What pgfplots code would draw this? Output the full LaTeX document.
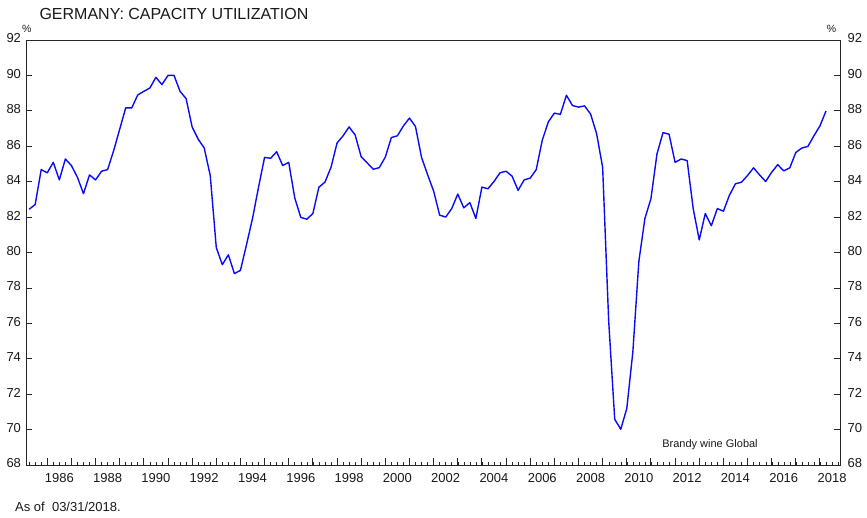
\documentclass[border=0pt]{standalone}
\usepackage{fontspec}
\setmainfont{Liberation Sans}
\usepackage{pgfplots}
\pgfplotsset{compat=1.18}
\usepackage{pgfplotstable}

\pgfplotstableread{
x y
1985.25 82.44
1985.50 82.71
1985.75 84.68
1986.00 84.50
1986.25 85.09
1986.50 84.10
1986.75 85.28
1987.00 84.91
1987.25 84.25
1987.50 83.32
1987.75 84.38
1988.00 84.10
1988.25 84.59
1988.50 84.68
1988.75 85.75
1989.00 86.96
1989.25 88.17
1989.50 88.17
1989.75 88.90
1990.00 89.10
1990.25 89.29
1990.50 89.89
1990.75 89.48
1991.00 90.00
1991.25 90.00
1991.50 89.10
1991.75 88.69
1992.00 87.09
1992.25 86.40
1992.50 85.90
1992.75 84.35
1993.00 80.28
1993.25 79.31
1993.50 79.87
1993.75 78.81
1994.00 78.99
1994.25 80.43
1994.50 81.92
1994.75 83.69
1995.00 85.37
1995.25 85.32
1995.50 85.69
1995.75 84.91
1996.00 85.09
1996.25 83.08
1996.50 81.98
1996.75 81.88
1997.00 82.20
1997.25 83.69
1997.50 83.97
1997.75 84.81
1998.00 86.18
1998.25 86.59
1998.50 87.09
1998.75 86.64
1999.00 85.41
1999.25 85.06
1999.50 84.70
1999.75 84.79
2000.00 85.39
2000.25 86.49
2000.50 86.59
2000.75 87.15
2001.00 87.59
2001.25 87.11
2001.50 85.37
2001.75 84.40
2002.00 83.47
2002.25 82.11
2002.50 82.00
2002.75 82.48
2003.00 83.30
2003.25 82.52
2003.50 82.82
2003.75 81.92
2004.00 83.69
2004.25 83.60
2004.50 84.01
2004.75 84.50
2005.00 84.59
2005.25 84.31
2005.50 83.51
2005.75 84.10
2006.00 84.20
2006.25 84.68
2006.50 86.34
2006.75 87.37
2007.00 87.87
2007.25 87.80
2007.50 88.88
2007.75 88.30
2008.00 88.21
2008.25 88.28
2008.50 87.82
2008.75 86.71
2009.00 84.81
2009.25 76.14
2009.50 70.58
2009.75 70.02
2010.00 71.19
2010.25 74.37
2010.50 79.50
2010.75 81.92
2011.00 83.04
2011.25 85.56
2011.50 86.77
2011.75 86.68
2012.00 85.09
2012.25 85.28
2012.50 85.19
2012.75 82.48
2013.00 80.71
2013.25 82.20
2013.50 81.51
2013.75 82.48
2014.00 82.33
2014.25 83.23
2014.50 83.88
2014.75 83.97
2015.00 84.35
2015.25 84.78
2015.50 84.38
2015.75 84.01
2016.00 84.53
2016.25 84.96
2016.50 84.61
2016.75 84.78
2017.00 85.65
2017.25 85.90
2017.50 85.99
2017.75 86.59
2018.00 87.15
2018.25 87.99
}\capdata

\begin{document}
\begin{tikzpicture}
\pgfplotsset{
  common/.style={
    scale only axis, width=814pt, height=425pt,
    xmin=1985.12, xmax=2018.83, ymin=68, ymax=92,
    ytick={68,70,...,92},
    /pgf/number format/assume math mode=true,
    ticklabel style={font=\fontsize{13}{15}\selectfont, text=black!90},
  }
}
\begin{axis}[common,
  axis line style={draw=black!85, line width=0.9pt},
  tick style={draw=black!85, line width=0.8pt},
  major tick length=6.5pt, minor tick length=3pt,
  xtick={1986,1987,...,2018}, xticklabels={},
  minor xtick={1985.25,1985.5,...,2018.75},
  xtick pos=left, ytick pos=both,
  yticklabel pos=left,
  yticklabel style={xshift=-1.5pt, yshift=1.5pt},
]
\addplot[color={rgb,255:red,10;green,10;blue,250}, line width=1.4pt, line join=round] table[x=x,y=y] {\capdata};
\coordinate (ll) at (rel axis cs:0,0);
\coordinate (ur) at (rel axis cs:1,1);
\coordinate (ul) at (rel axis cs:0,1);
\end{axis}
\begin{axis}[common,
  axis line style={draw=none}, tick style={draw=none},
  major tick length=0pt,
  xtick={1986.5,1988.5,1990.5,1992.5,1994.5,1996.5,1998.5,2000.5,2002.5,2004.5,2006.5,2008.5,2010.5,2012.5,2014.5,2016.5,2018.5},
  xticklabels={1986,1988,1990,1992,1994,1996,1998,2000,2002,2004,2006,2008,2010,2012,2014,2016,2018},
  xtick pos=left, ytick pos=right, yticklabel pos=right,
  xticklabel style={yshift=-5pt},
  yticklabel style={xshift=4pt, yshift=1.5pt},
]
\end{axis}
\node[anchor=base west, font=\fontsize{16}{18}\selectfont, text=black!90] at ([xshift=10pt,yshift=20.5pt]ul) {GERMANY: CAPACITY UTILIZATION};
\node[font=\fontsize{10.5}{12}\selectfont, text=black!90] at ([xshift=0.7pt,yshift=11.5pt]ul) {\%};
\node[font=\fontsize{10.5}{12}\selectfont, text=black!90] at ([xshift=-8.5pt,yshift=11.5pt]ur) {\%};
\node[anchor=base west, inner sep=0pt, font=\fontsize{13}{15}\selectfont, text=black!90] at ([xshift=-11pt,yshift=-46.5pt]ll) {As of\ \ 03/31/2018.};
\node[anchor=base, inner sep=0pt, font=\fontsize{11}{13}\selectfont, text=black!90] at ([xshift=684pt,yshift=17.5pt]ll) {Brandy wine Global};
\pgfresetboundingbox
\path ([xshift=-26pt,yshift=-53pt]ll) rectangle ([xshift=27pt,yshift=40pt]ur);
\end{tikzpicture}
\end{document}
